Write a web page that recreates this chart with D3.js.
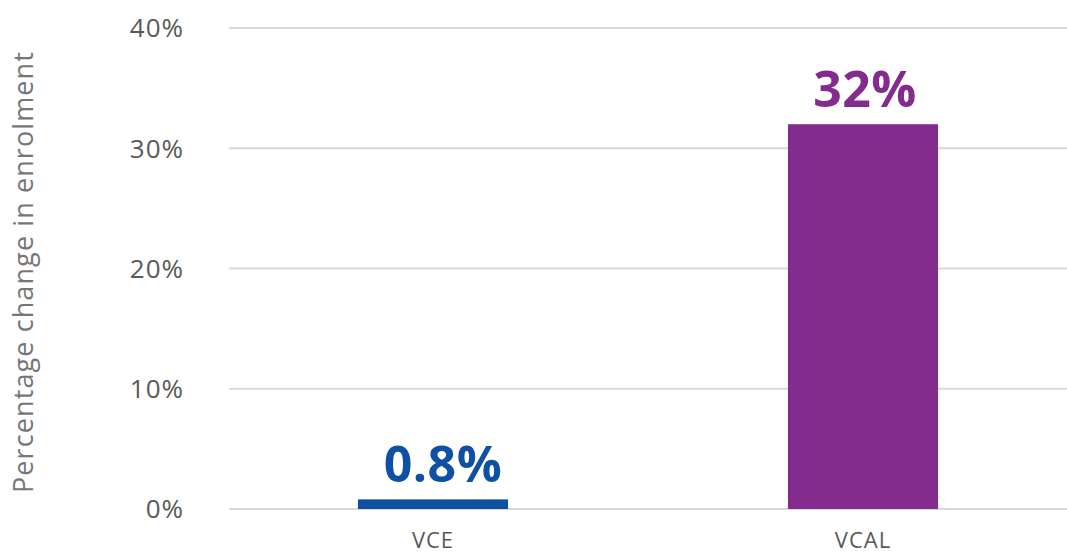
<!DOCTYPE html>
<html>
<head>
<meta charset="utf-8">
<script src="https://cdn.jsdelivr.net/npm/d3@7"></script>
<style>
  body { margin: 0; background: #fff; }
  text { font-family: "Open Sans", Lato, sans-serif; }
</style>
</head>
<body>
<script>
  // Data
  var categories = ["VCE", "VCAL"];
  var values = [0.8, 32];
  var labels = ["0.8%", "32%"];
  var colors = ["#0E50A4", "#842B8E"];
  var yTicks = [0, 10, 20, 30, 40];

  var W = 1067, H = 553;
  var gridLeft = 229, gridRight = 1067;

  var svg = d3.select("body").append("svg")
    .attr("width", W)
    .attr("height", H);

  // Scales
  var x = d3.scaleBand().domain(categories).range([218, 1078]).paddingInner(0.651).paddingOuter(0.3255);
  var y = d3.scaleLinear().domain([0, 40]).range([509, 28]);

  // Gridlines
  svg.append("g").selectAll("line")
    .data(yTicks)
    .enter().append("line")
    .attr("x1", gridLeft)
    .attr("x2", gridRight)
    .attr("y1", function (d) { return y(d); })
    .attr("y2", function (d) { return y(d); })
    .attr("stroke", "#d9d9d9")
    .attr("stroke-width", 2);

  // Y tick labels
  svg.append("g").selectAll("text")
    .data(yTicks)
    .enter().append("text")
    .attr("x", 184)
    .attr("y", function (d) { return y(d); })
    .attr("dy", "0.36em")
    .attr("text-anchor", "end")
    .attr("fill", "#595959")
    .style("font-size", "26px")
    .style("letter-spacing", "1px")
    .text(function (d) { return d + "%"; });

  // Bars
  svg.append("g").selectAll("rect")
    .data(values)
    .enter().append("rect")
    .attr("x", function (d, i) { return x(categories[i]); })
    .attr("width", x.bandwidth())
    .attr("y", function (d) { return y(d); })
    .attr("height", function (d) { return y(0) - y(d); })
    .attr("fill", function (d, i) { return colors[i]; });

  // Value labels (the small one sits a little right of centre, as in the original)
  svg.append("g").selectAll("text")
    .data(values)
    .enter().append("text")
    .attr("x", function (d, i) { return x(categories[i]) + x.bandwidth() / 2 + (i === 0 ? 10 : 2); })
    .attr("y", function (d) { return y(d) - 17; })
    .attr("text-anchor", "middle")
    .attr("fill", function (d, i) { return colors[i]; })
    .style("font-size", "50px")
    .style("font-weight", "bold")
    .style("letter-spacing", "0.5px")
    .text(function (d, i) { return labels[i]; });

  // X labels
  svg.append("g").selectAll("text")
    .data(categories)
    .enter().append("text")
    .attr("x", function (d) { return x(d) + x.bandwidth() / 2; })
    .attr("y", 548)
    .attr("text-anchor", "middle")
    .attr("fill", "#595959")
    .style("font-size", "22px")
    .style("letter-spacing", "1px")
    .text(function (d) { return d; });

  // Y axis title
  svg.append("text")
    .attr("transform", "translate(33,272) rotate(-90)")
    .attr("text-anchor", "middle")
    .attr("fill", "#767676")
    .style("font-size", "27px")
    .style("letter-spacing", "1.1px")
    .text("Percentage change in enrolment");
</script>
</body>
</html>
